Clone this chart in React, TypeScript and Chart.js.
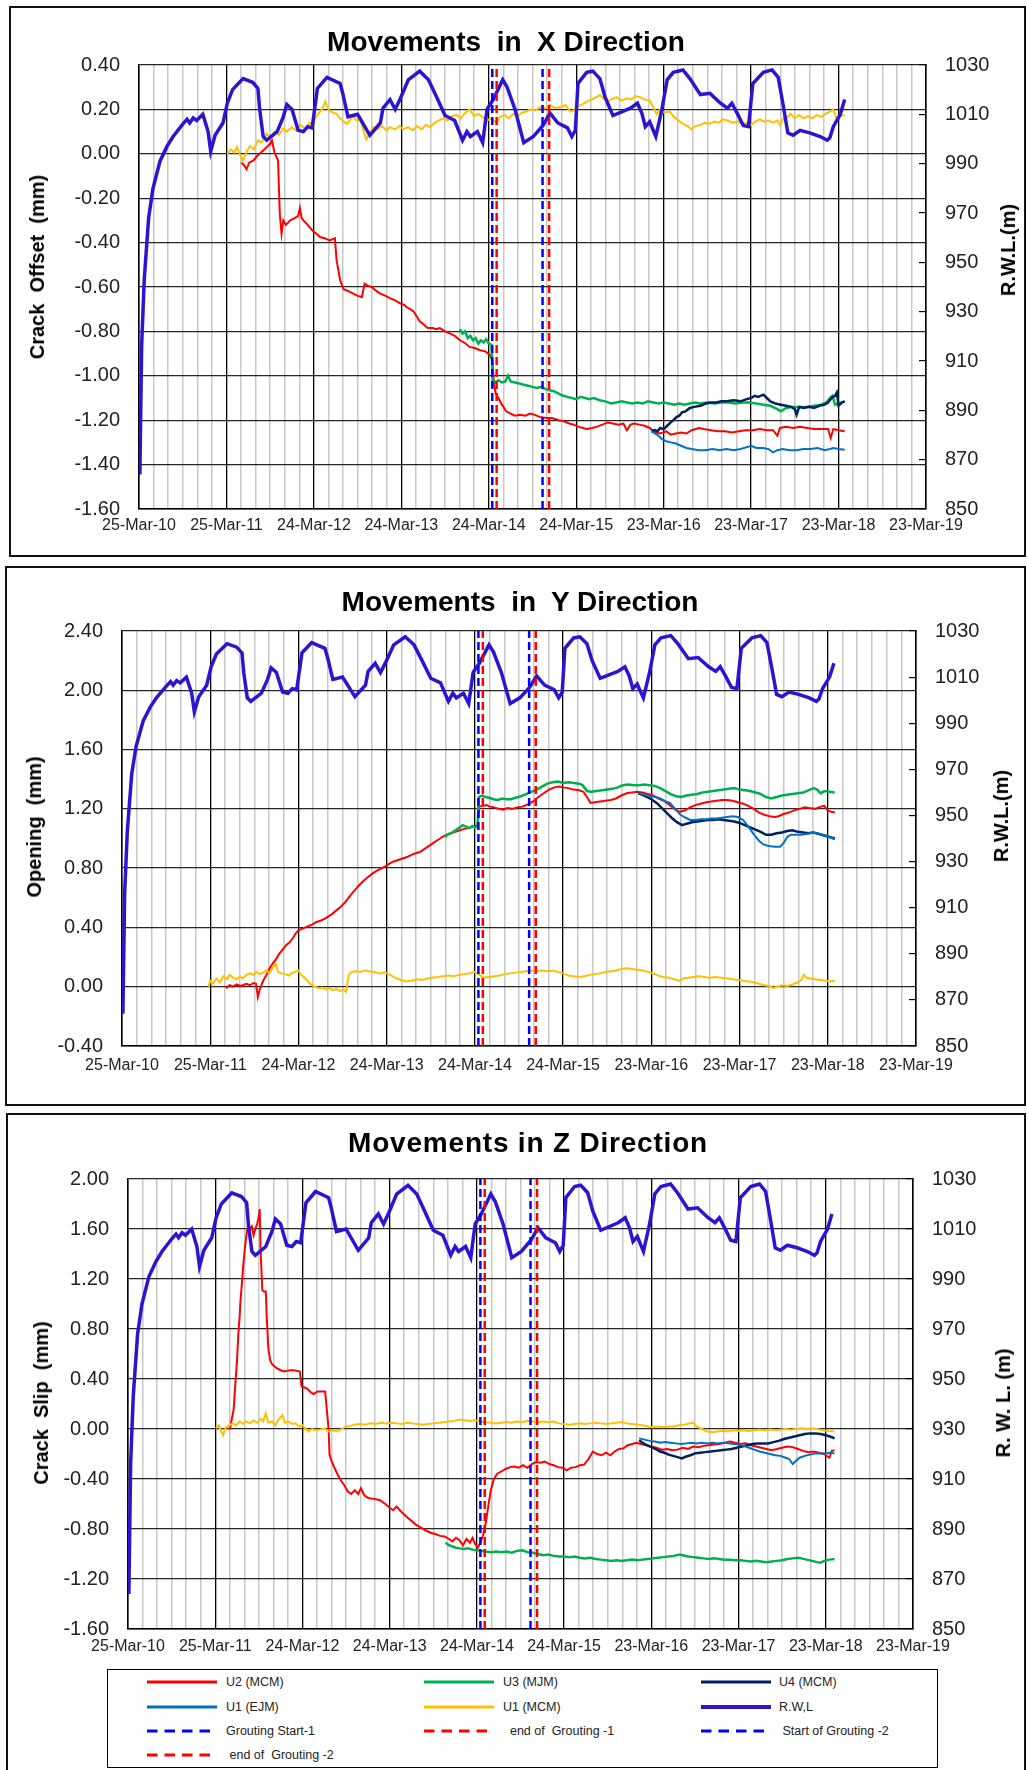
import React, { useEffect, useRef } from "react";
import { Chart, registerables } from "chart.js";
Chart.register(...registerables);

// ---------- DATA (t = years after 25-Mar-10) ----------
const TICK_LABELS = ["25-Mar-10", "25-Mar-11", "24-Mar-12", "24-Mar-13", "24-Mar-14", "24-Mar-15", "23-Mar-16", "23-Mar-17", "23-Mar-18", "23-Mar-19"];
const GROUT_T = [4.04, 4.09, 4.615, 4.69];

const RWL: [number, number][] = [[0.01,864],[0.03,916],[0.06,943],[0.11,968],[0.16,980],[0.24,991],[0.32,997],[0.39,1001],[0.5,1006],[0.55,1008],[0.58,1006.5],[0.62,1008.5],[0.66,1007.5],[0.73,1010],[0.79,1003],[0.82,995],[0.87,1001.5],[0.96,1006.5],[1.01,1014.5],[1.07,1020],[1.19,1024.5],[1.3,1023],[1.36,1020.5],[1.38,1012],[1.42,1001],[1.46,999.5],[1.58,1003],[1.65,1009],[1.69,1014],[1.75,1012],[1.82,1003.5],[1.88,1003],[1.93,1005],[1.98,1004.5],[2.04,1020.5],[2.15,1025],[2.3,1022.5],[2.33,1018.5],[2.39,1009],[2.5,1010],[2.64,1001.5],[2.76,1006.5],[2.79,1012.5],[2.87,1016],[2.93,1012],[2.99,1016.5],[3.08,1024],[3.21,1027.5],[3.31,1024],[3.39,1018],[3.5,1009.5],[3.61,1007.5],[3.7,999.5],[3.75,1003],[3.79,1001],[3.87,1003],[3.93,998.5],[3.98,1012],[4.05,1016],[4.16,1024],[4.21,1021],[4.3,1012],[4.4,998.5],[4.51,1001],[4.62,1005.5],[4.7,1010.5],[4.79,1006.5],[4.9,1004.5],[4.95,1001],[4.99,1003.5],[5.02,1022.5],[5.12,1027],[5.19,1027.5],[5.27,1024.5],[5.33,1017],[5.42,1009.5],[5.52,1011],[5.62,1012.5],[5.7,1014.5],[5.75,1010.5],[5.79,1005],[5.84,1007],[5.91,1001],[5.98,1012],[6.04,1024],[6.11,1027],[6.22,1028],[6.3,1024.5],[6.42,1018],[6.53,1018.5],[6.65,1014.5],[6.73,1012.5],[6.78,1014.5],[6.84,1010.5],[6.91,1005.5],[6.97,1005],[7.02,1022.5],[7.14,1027],[7.24,1028],[7.31,1025],[7.37,1013],[7.42,1002.5],[7.48,1001.5],[7.56,1003.5],[7.67,1002.5],[7.79,1001],[7.87,999.5],[7.9,1000.5],[7.94,1005],[8.02,1010],[8.07,1016]];

// X direction (Crack Offset)
const X_U1MCM: [number, number][] = [[1.01,0],[1.05,0.02],[1.09,0.005],[1.12,0.03],[1.16,-0.01],[1.19,-0.03],[1.23,0.01],[1.27,0.035],[1.31,0.02],[1.36,0.06],[1.4,0.05],[1.46,0.09],[1.5,0.07],[1.55,0.1],[1.6,0.085],[1.65,0.115],[1.69,0.1],[1.75,0.12],[1.8,0.105],[1.84,0.13],[1.9,0.115],[1.95,0.14],[1.98,0.13],[2.02,0.165],[2.05,0.18],[2.09,0.2],[2.13,0.235],[2.16,0.205],[2.18,0.195],[2.22,0.185],[2.26,0.18],[2.3,0.16],[2.34,0.145],[2.38,0.135],[2.42,0.155],[2.45,0.17],[2.49,0.15],[2.53,0.155],[2.57,0.1],[2.6,0.065],[2.64,0.095],[2.68,0.12],[2.72,0.11],[2.78,0.125],[2.83,0.105],[2.87,0.12],[2.93,0.11],[2.98,0.125],[3.02,0.11],[3.08,0.12],[3.13,0.105],[3.18,0.125],[3.23,0.11],[3.28,0.13],[3.33,0.12],[3.38,0.14],[3.43,0.15],[3.48,0.16],[3.53,0.15],[3.58,0.17],[3.63,0.175],[3.68,0.16],[3.73,0.185],[3.78,0.2],[3.83,0.17],[3.88,0.18],[3.93,0.165],[3.98,0.15],[4.03,0.16],[4.08,0.14],[4.13,0.165],[4.18,0.175],[4.23,0.16],[4.28,0.18],[4.33,0.17],[4.38,0.185],[4.43,0.19],[4.48,0.2],[4.53,0.195],[4.59,0.21],[4.64,0.205],[4.7,0.22],[4.76,0.205],[4.82,0.21],[4.88,0.22],[4.93,0.19],[4.97,0.195],[5.02,0.215],[5.08,0.225],[5.12,0.235],[5.18,0.245],[5.23,0.255],[5.27,0.265],[5.31,0.25],[5.36,0.235],[5.4,0.245],[5.46,0.255],[5.52,0.24],[5.58,0.25],[5.63,0.245],[5.68,0.26],[5.73,0.255],[5.78,0.245],[5.84,0.24],[5.88,0.21],[5.92,0.18],[5.96,0.2],[6.01,0.185],[6.07,0.19],[6.12,0.165],[6.17,0.15],[6.22,0.135],[6.27,0.125],[6.32,0.11],[6.36,0.125],[6.42,0.13],[6.47,0.14],[6.52,0.135],[6.58,0.145],[6.63,0.14],[6.68,0.155],[6.73,0.15],[6.79,0.14],[6.85,0.145],[6.9,0.135],[6.95,0.14],[7,0.13],[7.05,0.145],[7.1,0.155],[7.15,0.145],[7.2,0.15],[7.25,0.14],[7.3,0.15],[7.33,0.13],[7.37,0.16],[7.42,0.165],[7.45,0.18],[7.5,0.16],[7.55,0.175],[7.6,0.16],[7.65,0.17],[7.7,0.16],[7.75,0.175],[7.8,0.165],[7.85,0.18],[7.9,0.19],[7.94,0.2],[7.98,0.155],[8.02,0.17],[8.07,0.175]];
const X_U2: [number, number][] = [[1.17,-0.04],[1.2,-0.05],[1.23,-0.07],[1.26,-0.04],[1.31,-0.03],[1.35,-0.01],[1.38,0],[1.42,0.015],[1.46,0.03],[1.5,0.045],[1.52,0.06],[1.55,0.005],[1.59,-0.03],[1.61,-0.27],[1.63,-0.36],[1.65,-0.3],[1.68,-0.32],[1.73,-0.3],[1.78,-0.29],[1.82,-0.28],[1.84,-0.245],[1.86,-0.29],[1.88,-0.3],[1.93,-0.32],[1.98,-0.345],[2.03,-0.36],[2.07,-0.375],[2.12,-0.38],[2.18,-0.39],[2.24,-0.38],[2.26,-0.48],[2.3,-0.57],[2.34,-0.61],[2.4,-0.62],[2.45,-0.63],[2.5,-0.64],[2.55,-0.645],[2.58,-0.585],[2.62,-0.595],[2.66,-0.6],[2.72,-0.62],[2.76,-0.63],[2.82,-0.64],[2.87,-0.65],[2.93,-0.66],[2.99,-0.675],[3.03,-0.68],[3.06,-0.69],[3.1,-0.7],[3.14,-0.71],[3.18,-0.735],[3.21,-0.755],[3.26,-0.77],[3.3,-0.785],[3.36,-0.785],[3.4,-0.79],[3.44,-0.785],[3.5,-0.8],[3.56,-0.81],[3.61,-0.82],[3.67,-0.84],[3.72,-0.85],[3.78,-0.87],[3.84,-0.875],[3.9,-0.885],[3.96,-0.89],[4.01,-0.905],[4.04,-0.93],[4.06,-1.04],[4.08,-1.08],[4.11,-1.1],[4.15,-1.13],[4.2,-1.16],[4.25,-1.17],[4.3,-1.18],[4.36,-1.175],[4.42,-1.18],[4.47,-1.17],[4.52,-1.175],[4.58,-1.185],[4.66,-1.19],[4.72,-1.19],[4.8,-1.2],[4.86,-1.205],[4.92,-1.215],[4.97,-1.22],[5.03,-1.23],[5.08,-1.235],[5.12,-1.24],[5.18,-1.235],[5.23,-1.23],[5.3,-1.22],[5.36,-1.21],[5.42,-1.215],[5.48,-1.22],[5.54,-1.215],[5.58,-1.245],[5.62,-1.22],[5.66,-1.215],[5.72,-1.22],[5.78,-1.225],[5.84,-1.235],[5.9,-1.255],[5.96,-1.26],[6.03,-1.25],[6.08,-1.265],[6.14,-1.26],[6.2,-1.255],[6.26,-1.26],[6.32,-1.245],[6.4,-1.235],[6.46,-1.24],[6.54,-1.245],[6.62,-1.25],[6.7,-1.25],[6.78,-1.255],[6.86,-1.25],[6.94,-1.245],[7.02,-1.245],[7.1,-1.24],[7.18,-1.245],[7.25,-1.245],[7.3,-1.27],[7.33,-1.235],[7.4,-1.23],[7.48,-1.235],[7.56,-1.23],[7.64,-1.235],[7.72,-1.24],[7.8,-1.24],[7.88,-1.24],[7.91,-1.28],[7.94,-1.24],[8,-1.245],[8.07,-1.25]];
const X_U3: [number, number][] = [[3.67,-0.79],[3.7,-0.81],[3.73,-0.8],[3.76,-0.83],[3.79,-0.82],[3.82,-0.84],[3.85,-0.83],[3.88,-0.855],[3.91,-0.84],[3.94,-0.85],[3.97,-0.835],[4,-0.855],[4.03,-0.86],[4.045,-1.02],[4.08,-1.03],[4.11,-1.02],[4.15,-1.03],[4.19,-1.025],[4.22,-1],[4.25,-1.025],[4.3,-1.03],[4.35,-1.035],[4.4,-1.04],[4.45,-1.045],[4.5,-1.05],[4.55,-1.055],[4.6,-1.05],[4.65,-1.06],[4.7,-1.065],[4.75,-1.07],[4.8,-1.08],[4.85,-1.09],[4.9,-1.095],[4.95,-1.1],[5,-1.105],[5.05,-1.095],[5.1,-1.1],[5.15,-1.105],[5.2,-1.1],[5.27,-1.11],[5.33,-1.115],[5.4,-1.125],[5.46,-1.12],[5.52,-1.115],[5.58,-1.12],[5.64,-1.125],[5.7,-1.12],[5.76,-1.125],[5.82,-1.115],[5.88,-1.12],[5.94,-1.125],[6,-1.12],[6.06,-1.125],[6.12,-1.13],[6.18,-1.125],[6.24,-1.13],[6.3,-1.125],[6.36,-1.12],[6.42,-1.125],[6.5,-1.12],[6.58,-1.125],[6.66,-1.12],[6.74,-1.12],[6.82,-1.125],[6.9,-1.12],[6.98,-1.12],[7.06,-1.125],[7.14,-1.13],[7.22,-1.135],[7.3,-1.15],[7.34,-1.16],[7.4,-1.145],[7.48,-1.14],[7.56,-1.14],[7.64,-1.14],[7.72,-1.135],[7.8,-1.13],[7.86,-1.12],[7.9,-1.1],[7.93,-1.09],[7.96,-1.13],[8,-1.125],[8.07,-1.115]];
const X_U4: [number, number][] = [[5.86,-1.25],[5.9,-1.245],[5.93,-1.25],[5.96,-1.235],[6,-1.24],[6.04,-1.225],[6.08,-1.21],[6.11,-1.2],[6.15,-1.185],[6.18,-1.18],[6.21,-1.165],[6.25,-1.16],[6.3,-1.145],[6.35,-1.14],[6.42,-1.135],[6.48,-1.125],[6.54,-1.12],[6.6,-1.12],[6.66,-1.115],[6.72,-1.115],[6.8,-1.11],[6.88,-1.115],[6.95,-1.105],[7,-1.1],[7.04,-1.09],[7.08,-1.095],[7.14,-1.085],[7.18,-1.1],[7.22,-1.115],[7.28,-1.125],[7.34,-1.13],[7.4,-1.135],[7.46,-1.14],[7.5,-1.15],[7.52,-1.175],[7.55,-1.14],[7.6,-1.145],[7.66,-1.14],[7.72,-1.145],[7.78,-1.135],[7.84,-1.13],[7.88,-1.12],[7.92,-1.1],[7.96,-1.09],[7.98,-1.075],[8,-1.135],[8.04,-1.12],[8.07,-1.115]];
const X_U1EJM: [number, number][] = [[5.86,-1.25],[5.9,-1.26],[5.94,-1.27],[5.98,-1.285],[6.03,-1.295],[6.08,-1.3],[6.14,-1.305],[6.2,-1.315],[6.26,-1.325],[6.32,-1.33],[6.4,-1.335],[6.48,-1.335],[6.56,-1.33],[6.64,-1.335],[6.72,-1.33],[6.8,-1.335],[6.88,-1.33],[6.96,-1.32],[7,-1.315],[7.06,-1.325],[7.14,-1.325],[7.2,-1.33],[7.25,-1.345],[7.3,-1.335],[7.36,-1.33],[7.44,-1.335],[7.52,-1.335],[7.6,-1.33],[7.68,-1.33],[7.76,-1.325],[7.84,-1.335],[7.9,-1.33],[7.94,-1.325],[8,-1.33],[8.07,-1.333]];

// Y direction (Opening)
const Y_U1MCM: [number, number][] = [[0.98,0],[1,0.04],[1.03,0.02],[1.07,0.055],[1.11,0.03],[1.15,0.07],[1.19,0.05],[1.22,0.08],[1.26,0.06],[1.3,0.05],[1.34,0.07],[1.37,0.055],[1.41,0.08],[1.45,0.09],[1.49,0.08],[1.52,0.1],[1.56,0.085],[1.6,0.095],[1.64,0.11],[1.67,0.09],[1.7,0.12],[1.74,0.155],[1.77,0.1],[1.81,0.09],[1.85,0.085],[1.89,0.075],[1.92,0.09],[1.96,0.1],[2,0.11],[2.03,0.08],[2.07,0.06],[2.11,0.035],[2.15,0.01],[2.19,0],[2.23,-0.01],[2.27,-0.005],[2.31,-0.02],[2.35,-0.01],[2.39,-0.025],[2.43,-0.015],[2.47,-0.03],[2.51,-0.02],[2.54,-0.035],[2.57,0.08],[2.6,0.1],[2.65,0.105],[2.7,0.1],[2.75,0.11],[2.8,0.105],[2.86,0.1],[2.92,0.09],[2.98,0.095],[3.04,0.08],[3.1,0.06],[3.16,0.045],[3.22,0.035],[3.28,0.04],[3.34,0.05],[3.4,0.045],[3.46,0.055],[3.52,0.06],[3.58,0.065],[3.64,0.07],[3.7,0.075],[3.76,0.07],[3.82,0.08],[3.88,0.085],[3.94,0.09],[4,0.1],[4.04,0.085],[4.1,0.06],[4.16,0.065],[4.22,0.07],[4.28,0.075],[4.34,0.085],[4.4,0.09],[4.46,0.095],[4.52,0.1],[4.58,0.105],[4.64,0.11],[4.7,0.105],[4.76,0.11],[4.82,0.105],[4.88,0.11],[4.94,0.1],[5,0.09],[5.06,0.075],[5.12,0.07],[5.18,0.065],[5.24,0.07],[5.3,0.08],[5.36,0.085],[5.42,0.09],[5.48,0.1],[5.54,0.105],[5.6,0.11],[5.66,0.12],[5.72,0.125],[5.78,0.12],[5.84,0.115],[5.9,0.11],[5.96,0.1],[6.02,0.09],[6.08,0.075],[6.14,0.065],[6.2,0.06],[6.26,0.05],[6.32,0.04],[6.36,0.055],[6.42,0.06],[6.48,0.065],[6.54,0.07],[6.6,0.065],[6.66,0.06],[6.72,0.065],[6.8,0.06],[6.86,0.055],[6.92,0.05],[6.98,0.045],[7.04,0.04],[7.1,0.035],[7.16,0.03],[7.22,0.02],[7.28,0.01],[7.34,0.005],[7.38,-0.01],[7.42,0],[7.48,0.01],[7.54,0.005],[7.6,0.015],[7.66,0.03],[7.7,0.045],[7.73,0.08],[7.76,0.06],[7.8,0.055],[7.86,0.05],[7.92,0.045],[7.98,0.04],[8.04,0.035],[8.08,0.04]];
const Y_U2: [number, number][] = [[1.18,-0.01],[1.22,0.01],[1.26,0],[1.3,0.015],[1.34,0.005],[1.37,0.01],[1.41,0.02],[1.45,0.01],[1.49,0.025],[1.52,0.02],[1.54,-0.07],[1.56,-0.02],[1.6,0.04],[1.63,0.07],[1.67,0.12],[1.71,0.16],[1.74,0.18],[1.78,0.22],[1.82,0.25],[1.86,0.28],[1.9,0.3],[1.94,0.33],[1.97,0.36],[2,0.38],[2.04,0.39],[2.08,0.4],[2.12,0.41],[2.16,0.42],[2.2,0.435],[2.25,0.445],[2.3,0.46],[2.34,0.475],[2.38,0.49],[2.43,0.515],[2.48,0.54],[2.53,0.57],[2.58,0.61],[2.63,0.645],[2.68,0.68],[2.73,0.71],[2.78,0.735],[2.83,0.76],[2.88,0.78],[2.93,0.795],[2.98,0.81],[3.03,0.83],[3.08,0.845],[3.13,0.855],[3.18,0.865],[3.23,0.875],[3.28,0.89],[3.33,0.9],[3.38,0.91],[3.43,0.93],[3.48,0.95],[3.53,0.97],[3.58,0.99],[3.63,1.01],[3.68,1.025],[3.73,1.035],[3.78,1.045],[3.83,1.055],[3.88,1.065],[3.93,1.07],[3.98,1.08],[4.03,1.09],[4.05,1.215],[4.09,1.22],[4.13,1.225],[4.17,1.215],[4.22,1.21],[4.27,1.2],[4.32,1.195],[4.37,1.205],[4.42,1.2],[4.48,1.21],[4.54,1.215],[4.6,1.23],[4.66,1.25],[4.72,1.28],[4.78,1.305],[4.84,1.33],[4.9,1.345],[4.95,1.35],[5,1.345],[5.06,1.34],[5.12,1.33],[5.18,1.325],[5.23,1.315],[5.27,1.28],[5.31,1.24],[5.36,1.245],[5.42,1.25],[5.48,1.255],[5.54,1.26],[5.6,1.27],[5.66,1.29],[5.72,1.305],[5.78,1.31],[5.84,1.315],[5.9,1.31],[5.96,1.3],[6.02,1.29],[6.08,1.27],[6.14,1.255],[6.2,1.23],[6.26,1.2],[6.32,1.18],[6.38,1.19],[6.44,1.21],[6.5,1.225],[6.56,1.235],[6.62,1.245],[6.68,1.25],[6.74,1.255],[6.8,1.26],[6.86,1.26],[6.92,1.255],[6.98,1.245],[7.04,1.235],[7.1,1.22],[7.16,1.2],[7.22,1.175],[7.28,1.16],[7.34,1.15],[7.4,1.145],[7.44,1.15],[7.5,1.165],[7.56,1.175],[7.62,1.19],[7.68,1.2],[7.74,1.21],[7.8,1.205],[7.86,1.2],[7.92,1.215],[7.96,1.22],[8,1.19],[8.04,1.18],[8.08,1.175]];
const Y_U3: [number, number][] = [[3.66,1.01],[3.7,1.03],[3.74,1.04],[3.78,1.055],[3.82,1.07],[3.86,1.09],[3.9,1.08],[3.94,1.07],[3.97,1.085],[4,1.075],[4.03,1.08],[4.045,1.28],[4.08,1.29],[4.12,1.28],[4.16,1.275],[4.21,1.265],[4.26,1.26],[4.31,1.27],[4.36,1.265],[4.41,1.265],[4.46,1.275],[4.52,1.285],[4.58,1.3],[4.64,1.315],[4.7,1.33],[4.76,1.35],[4.82,1.37],[4.88,1.38],[4.94,1.385],[5,1.375],[5.06,1.38],[5.12,1.375],[5.18,1.37],[5.22,1.36],[5.27,1.32],[5.32,1.315],[5.38,1.32],[5.44,1.325],[5.5,1.33],[5.56,1.335],[5.62,1.345],[5.68,1.36],[5.74,1.365],[5.8,1.36],[5.86,1.36],[5.92,1.365],[5.98,1.36],[6.04,1.355],[6.1,1.34],[6.16,1.32],[6.22,1.3],[6.28,1.285],[6.34,1.28],[6.4,1.29],[6.46,1.295],[6.52,1.3],[6.58,1.31],[6.64,1.315],[6.7,1.32],[6.76,1.325],[6.82,1.33],[6.88,1.335],[6.94,1.34],[7,1.33],[7.06,1.325],[7.12,1.32],[7.18,1.31],[7.24,1.3],[7.3,1.28],[7.36,1.27],[7.42,1.28],[7.48,1.29],[7.54,1.295],[7.6,1.3],[7.66,1.305],[7.72,1.31],[7.78,1.325],[7.84,1.34],[7.88,1.33],[7.92,1.305],[7.96,1.32],[8.02,1.315],[8.08,1.31]];
const Y_U4: [number, number][] = [[5.85,1.305],[5.9,1.295],[5.95,1.28],[6,1.265],[6.06,1.24],[6.12,1.205],[6.18,1.17],[6.23,1.14],[6.29,1.11],[6.35,1.09],[6.4,1.1],[6.46,1.11],[6.52,1.115],[6.58,1.12],[6.64,1.125],[6.7,1.125],[6.76,1.13],[6.82,1.125],[6.88,1.12],[6.94,1.115],[7,1.105],[7.06,1.09],[7.12,1.075],[7.18,1.06],[7.24,1.045],[7.3,1.025],[7.36,1.025],[7.42,1.035],[7.48,1.04],[7.54,1.05],[7.6,1.055],[7.66,1.045],[7.72,1.04],[7.78,1.035],[7.84,1.04],[7.9,1.03],[7.96,1.02],[8.02,1.01],[8.08,1]];
const Y_U1EJM: [number, number][] = [[5.85,1.305],[5.9,1.3],[5.95,1.29],[6,1.285],[6.05,1.28],[6.1,1.27],[6.16,1.25],[6.21,1.24],[6.27,1.2],[6.33,1.16],[6.39,1.14],[6.44,1.125],[6.5,1.125],[6.56,1.13],[6.62,1.13],[6.68,1.135],[6.74,1.135],[6.8,1.14],[6.86,1.145],[6.92,1.15],[6.98,1.145],[7.04,1.125],[7.1,1.08],[7.16,1.03],[7.22,0.985],[7.27,0.96],[7.33,0.95],[7.4,0.945],[7.46,0.945],[7.5,0.97],[7.54,1.01],[7.58,1.025],[7.64,1.025],[7.7,1.025],[7.76,1.03],[7.82,1.04],[7.88,1.035],[7.94,1.025],[8,1.015],[8.08,0.995]];

// Z direction (Crack Slip)
const Z_U1MCM: [number, number][] = [[1.01,0.005],[1.04,0.03],[1.07,-0.02],[1.09,-0.05],[1.12,0.01],[1.16,0.03],[1.2,0.045],[1.24,0.03],[1.28,0.06],[1.32,0.04],[1.35,0.06],[1.4,0.045],[1.44,0.07],[1.48,0.05],[1.52,0.08],[1.55,0.06],[1.58,0.125],[1.61,0.05],[1.65,0.06],[1.69,0.03],[1.72,0.07],[1.77,0.11],[1.8,0.05],[1.84,0.06],[1.88,0.04],[1.92,0.045],[1.96,0.02],[2,0.03],[2.04,0],[2.07,-0.02],[2.11,0],[2.15,-0.01],[2.2,-0.005],[2.25,0.005],[2.3,-0.02],[2.35,-0.01],[2.4,-0.02],[2.45,0],[2.5,0.02],[2.55,0.025],[2.6,0.035],[2.66,0.04],[2.72,0.035],[2.78,0.045],[2.84,0.04],[2.9,0.05],[2.96,0.045],[3.02,0.05],[3.08,0.045],[3.14,0.04],[3.2,0.05],[3.26,0.045],[3.32,0.04],[3.38,0.035],[3.44,0.04],[3.5,0.045],[3.56,0.05],[3.62,0.055],[3.68,0.06],[3.74,0.065],[3.8,0.075],[3.86,0.07],[3.92,0.065],[3.98,0.07],[4.04,0.06],[4.1,0.055],[4.16,0.05],[4.22,0.045],[4.28,0.05],[4.34,0.055],[4.4,0.05],[4.46,0.06],[4.52,0.055],[4.58,0.065],[4.64,0.06],[4.7,0.055],[4.76,0.06],[4.82,0.055],[4.88,0.06],[4.94,0.045],[5,0.04],[5.06,0.035],[5.12,0.04],[5.18,0.045],[5.24,0.04],[5.3,0.045],[5.36,0.05],[5.42,0.045],[5.48,0.04],[5.54,0.045],[5.6,0.05],[5.66,0.055],[5.72,0.045],[5.78,0.04],[5.84,0.035],[5.9,0.03],[5.96,0.02],[6.02,0.015],[6.08,0.02],[6.14,0.015],[6.2,0.02],[6.26,0.02],[6.32,0.03],[6.38,0.035],[6.44,0.045],[6.48,0.05],[6.52,0.02],[6.58,0],[6.64,-0.02],[6.7,-0.025],[6.76,-0.02],[6.82,-0.015],[6.88,-0.02],[6.94,-0.01],[7,-0.015],[7.06,-0.01],[7.12,-0.015],[7.18,-0.01],[7.24,-0.005],[7.3,-0.01],[7.36,-0.005],[7.42,-0.01],[7.48,-0.005],[7.54,0],[7.6,-0.005],[7.66,0],[7.72,0.005],[7.78,0],[7.84,0.005],[7.9,0],[7.96,-0.01],[8.02,-0.015],[8.1,-0.02]];
const Z_U2: [number, number][] = [[1.15,0],[1.17,0.005],[1.19,0.08],[1.21,0.15],[1.23,0.35],[1.25,0.55],[1.265,0.76],[1.28,0.9],[1.29,1.03],[1.31,1.2],[1.32,1.3],[1.34,1.45],[1.36,1.56],[1.38,1.64],[1.4,1.6],[1.42,1.62],[1.44,1.55],[1.46,1.6],[1.48,1.64],[1.5,1.7],[1.51,1.76],[1.52,1.43],[1.54,1.11],[1.56,1.1],[1.58,1.1],[1.59,0.9],[1.61,0.64],[1.63,0.55],[1.65,0.52],[1.68,0.5],[1.71,0.485],[1.75,0.47],[1.79,0.46],[1.82,0.465],[1.86,0.47],[1.9,0.47],[1.94,0.465],[1.97,0.46],[1.99,0.34],[2.03,0.33],[2.06,0.32],[2.1,0.29],[2.13,0.28],[2.17,0.3],[2.22,0.3],[2.26,0.3],[2.28,0.15],[2.3,0],[2.31,-0.2],[2.33,-0.25],[2.36,-0.3],[2.4,-0.36],[2.44,-0.41],[2.48,-0.45],[2.52,-0.5],[2.56,-0.52],[2.6,-0.49],[2.64,-0.52],[2.67,-0.475],[2.71,-0.53],[2.75,-0.55],[2.78,-0.555],[2.83,-0.56],[2.89,-0.57],[2.95,-0.6],[3,-0.63],[3.04,-0.65],[3.08,-0.62],[3.13,-0.66],[3.19,-0.7],[3.25,-0.735],[3.3,-0.765],[3.35,-0.785],[3.41,-0.81],[3.47,-0.83],[3.52,-0.84],[3.58,-0.855],[3.63,-0.86],[3.68,-0.88],[3.72,-0.9],[3.76,-0.87],[3.8,-0.89],[3.84,-0.93],[3.88,-0.88],[3.92,-0.91],[3.95,-0.87],[3.98,-0.92],[4.01,-0.95],[4.04,-0.91],[4.07,-0.85],[4.1,-0.76],[4.13,-0.62],[4.16,-0.49],[4.19,-0.41],[4.23,-0.36],[4.28,-0.34],[4.33,-0.32],[4.38,-0.305],[4.43,-0.3],[4.48,-0.31],[4.53,-0.29],[4.58,-0.31],[4.63,-0.28],[4.68,-0.265],[4.73,-0.27],[4.78,-0.26],[4.83,-0.28],[4.88,-0.29],[4.93,-0.305],[4.98,-0.31],[5.03,-0.33],[5.08,-0.31],[5.13,-0.305],[5.18,-0.29],[5.23,-0.285],[5.28,-0.24],[5.33,-0.18],[5.38,-0.2],[5.43,-0.21],[5.48,-0.19],[5.53,-0.21],[5.58,-0.18],[5.63,-0.16],[5.68,-0.155],[5.73,-0.13],[5.78,-0.12],[5.83,-0.11],[5.88,-0.12],[5.94,-0.13],[6,-0.14],[6.06,-0.15],[6.12,-0.165],[6.18,-0.16],[6.24,-0.17],[6.3,-0.165],[6.36,-0.15],[6.42,-0.16],[6.48,-0.14],[6.54,-0.145],[6.6,-0.135],[6.66,-0.13],[6.72,-0.125],[6.78,-0.12],[6.84,-0.11],[6.9,-0.1],[6.96,-0.11],[7.02,-0.12],[7.08,-0.115],[7.14,-0.13],[7.2,-0.14],[7.26,-0.15],[7.32,-0.16],[7.38,-0.17],[7.44,-0.16],[7.5,-0.15],[7.56,-0.14],[7.62,-0.145],[7.68,-0.16],[7.74,-0.175],[7.8,-0.185],[7.86,-0.18],[7.92,-0.19],[7.98,-0.2],[8.04,-0.23],[8.07,-0.175],[8.1,-0.17]];
const Z_U3: [number, number][] = [[3.64,-0.91],[3.68,-0.93],[3.72,-0.94],[3.76,-0.95],[3.8,-0.955],[3.85,-0.96],[3.9,-0.955],[3.95,-0.965],[4,-0.97],[4.05,-0.975],[4.1,-0.98],[4.16,-0.985],[4.22,-0.98],[4.28,-0.985],[4.34,-0.98],[4.4,-0.99],[4.46,-0.975],[4.52,-0.97],[4.58,-0.985],[4.64,-0.99],[4.7,-1],[4.76,-1.01],[4.82,-1.005],[4.88,-1.015],[4.94,-1.02],[5,-1.02],[5.06,-1.025],[5.12,-1.02],[5.18,-1.03],[5.24,-1.035],[5.3,-1.03],[5.36,-1.04],[5.42,-1.045],[5.48,-1.05],[5.54,-1.055],[5.6,-1.05],[5.66,-1.055],[5.72,-1.05],[5.78,-1.045],[5.84,-1.05],[5.9,-1.045],[5.96,-1.04],[6.02,-1.035],[6.08,-1.03],[6.14,-1.025],[6.2,-1.02],[6.26,-1.015],[6.32,-1.005],[6.36,-1.01],[6.42,-1.02],[6.48,-1.025],[6.54,-1.03],[6.6,-1.035],[6.66,-1.04],[6.72,-1.035],[6.78,-1.04],[6.84,-1.045],[6.9,-1.045],[6.96,-1.05],[7.02,-1.05],[7.08,-1.055],[7.14,-1.06],[7.2,-1.055],[7.26,-1.06],[7.32,-1.065],[7.38,-1.06],[7.44,-1.055],[7.5,-1.05],[7.56,-1.04],[7.62,-1.035],[7.68,-1.03],[7.72,-1.035],[7.78,-1.045],[7.84,-1.055],[7.9,-1.065],[7.94,-1.07],[7.98,-1.055],[8.04,-1.045],[8.1,-1.04]];
const Z_U4: [number, number][] = [[5.86,-0.09],[5.9,-0.11],[5.95,-0.13],[6,-0.145],[6.05,-0.16],[6.1,-0.18],[6.15,-0.19],[6.2,-0.205],[6.25,-0.215],[6.3,-0.225],[6.35,-0.235],[6.4,-0.22],[6.45,-0.21],[6.5,-0.195],[6.56,-0.19],[6.62,-0.185],[6.68,-0.18],[6.74,-0.175],[6.8,-0.17],[6.86,-0.165],[6.92,-0.16],[6.98,-0.15],[7.04,-0.14],[7.1,-0.13],[7.16,-0.12],[7.22,-0.115],[7.28,-0.115],[7.34,-0.115],[7.4,-0.105],[7.46,-0.095],[7.52,-0.08],[7.58,-0.07],[7.64,-0.06],[7.7,-0.05],[7.76,-0.04],[7.82,-0.035],[7.88,-0.035],[7.94,-0.04],[8,-0.05],[8.05,-0.06],[8.1,-0.075]];
const Z_U1EJM: [number, number][] = [[5.86,-0.075],[5.92,-0.085],[5.98,-0.095],[6.04,-0.1],[6.1,-0.11],[6.16,-0.105],[6.22,-0.11],[6.28,-0.115],[6.34,-0.12],[6.4,-0.115],[6.46,-0.11],[6.52,-0.115],[6.58,-0.11],[6.64,-0.115],[6.7,-0.11],[6.76,-0.115],[6.82,-0.11],[6.88,-0.115],[6.94,-0.12],[7,-0.125],[7.06,-0.135],[7.12,-0.15],[7.18,-0.165],[7.24,-0.18],[7.3,-0.19],[7.36,-0.2],[7.42,-0.21],[7.48,-0.215],[7.54,-0.23],[7.58,-0.24],[7.62,-0.28],[7.65,-0.26],[7.7,-0.23],[7.76,-0.215],[7.82,-0.205],[7.88,-0.195],[7.94,-0.195],[8,-0.195],[8.05,-0.19],[8.1,-0.195]];

// ---------- STYLE ----------
const FONT = '"Liberation Sans", Arial, sans-serif';
const C = { U2: "#FF0000", U3: "#00B050", U4: "#002060", U1E: "#0070C0", U1M: "#FFC000", RWL: "#2B14D2", gBlue: "#0000FF", gRed: "#FF0000" };

type Pair = [number, number];
type Spec = {
  cx: number; cy: number; cw: number; ch: number;
  aL: number; aT: number; aR: number; aB: number;
  yMin: number; yMax: number; yStep: number; xPad: number;
  u2: Pair[]; u3: Pair[]; u4: Pair[]; u1e: Pair[]; u1m: Pair[];
};

const fmt2 = (v: any) => {
  const r = Math.round(Number(v) * 100) / 100;
  return (r === 0 ? 0 : r).toFixed(2);
};

function buildConfig(p: Spec): any {
  const padTop = p.aT - p.cy;
  const leftW = p.aL - p.cx;
  const rightW = p.cx + p.cw - p.aR;
  const bottomH = p.cy + p.ch - p.aB;
  const line = (data: Pair[], color: string, width: number, order: number, axis = "y") => ({
    data: data.map(([x, y]) => ({ x, y })),
    borderColor: color, backgroundColor: color, borderWidth: width,
    pointRadius: 0, tension: 0, fill: false, order, yAxisID: axis,
  });
  const grout = GROUT_T.map((t, i) => ({
    data: [{ x: t, y: p.yMin }, { x: t, y: p.yMax }],
    borderColor: i % 2 ? C.gRed : C.gBlue, borderWidth: 2.5, borderDash: [8, 4],
    pointRadius: 0, fill: false, order: 0, yAxisID: "y",
  }));
  return {
    type: "line",
    data: {
      datasets: [
        ...grout,
        line(RWL, C.RWL, 3.5, 1, "y1"),
        line(p.u1m, C.U1M, 2, 2),
        line(p.u1e, C.U1E, 2, 3),
        line(p.u4, C.U4, 2.5, 4),
        line(p.u3, C.U3, 2.5, 5),
        line(p.u2, C.U2, 2, 6),
      ],
    },
    options: {
      responsive: false, maintainAspectRatio: false, animation: false, devicePixelRatio: 1, events: [],
      layout: { padding: { top: padTop, left: 0, right: 0, bottom: 0 } },
      plugins: { legend: { display: false }, tooltip: { enabled: false }, title: { display: false } },
      scales: {
        x: {
          type: "linear", min: 0, max: 9,
          afterBuildTicks: (s: any) => { s.ticks = Array.from({ length: 55 }, (_, i) => ({ value: i / 6 })); },
          afterFit: (s: any) => { s.height = bottomH; },
          ticks: {
            autoSkip: false, maxRotation: 0, minRotation: 0, padding: p.xPad, color: "#222",
            font: { family: FONT, size: 16 },
            callback: (_v: any, i: number) => (i % 6 === 0 ? TICK_LABELS[i / 6] : ""),
          },
          grid: {
            drawTicks: false,
            color: (ctx: any) => (ctx.index % 6 === 0 ? "#000" : "#C8C8C8"),
            lineWidth: (ctx: any) => (ctx.index % 6 === 0 ? 1.3 : 1.5),
          },
          border: { display: true, color: "#000", width: 1.5 },
        },
        y: {
          type: "linear", position: "left", min: p.yMin, max: p.yMax,
          afterFit: (s: any) => { s.width = leftW; },
          ticks: { stepSize: p.yStep, padding: 19, color: "#222", font: { family: FONT, size: 20 }, callback: fmt2 },
          grid: { drawTicks: false, color: "#262626", lineWidth: 1.3 },
          border: { display: true, color: "#000", width: 1.5 },
        },
        y1: {
          type: "linear", position: "right", min: 850, max: 1030,
          afterFit: (s: any) => { s.width = rightW; },
          ticks: { stepSize: 20, padding: 26, color: "#222", font: { family: FONT, size: 20 }, callback: (v: any) => String(Math.round(Number(v))) },
          grid: { drawOnChartArea: false, drawTicks: true, tickLength: -7, color: "#000", lineWidth: 1.2 },
          border: { display: true, color: "#000", width: 1.5 },
        },
      },
    },
  };
}

const PANELS: Spec[] = [
  { cx: 11, cy: 8, cw: 1013, ch: 547, aL: 139, aT: 65, aR: 926, aB: 509, yMin: -1.6, yMax: 0.4, yStep: 0.2, xPad: 7,
    u2: X_U2, u3: X_U3, u4: X_U4, u1e: X_U1EJM, u1m: X_U1MCM },
  { cx: 7, cy: 568, cw: 1017, ch: 536, aL: 122, aT: 631, aR: 916, aB: 1046, yMin: -0.4, yMax: 2.4, yStep: 0.4, xPad: 10,
    u2: Y_U2, u3: Y_U3, u4: Y_U4, u1e: Y_U1EJM, u1m: Y_U1MCM },
  { cx: 8, cy: 1115, cw: 1016, ch: 552, aL: 128, aT: 1179, aR: 913, aB: 1629, yMin: -1.6, yMax: 2.0, yStep: 0.4, xPad: 8,
    u2: Z_U2, u3: Z_U3, u4: Z_U4, u1e: Z_U1EJM, u1m: Z_U1MCM },
];

const TITLES = [
  { text: "Movements  in  X Direction", x: 506, top: 28, ls: 0 },
  { text: "Movements  in  Y Direction", x: 520, top: 588, ls: 0 },
  { text: "Movements in Z Direction", x: 528, top: 1129, ls: 0.8 },
];
const AXIS_TITLES = [
  { text: "Crack  Offset  (mm)", x: 37, y: 267 },
  { text: "R.W.L.(m)", x: 1008, y: 250 },
  { text: "Opening  (mm)", x: 34, y: 827 },
  { text: "R.W.L.(m)", x: 1001, y: 816 },
  { text: "Crack  Slip  (mm)", x: 41, y: 1403 },
  { text: "R. W. L. (m)", x: 1003, y: 1403 },
];
const BOXES = [
  { left: 9, top: 6, width: 1017, height: 551 },
  { left: 5, top: 566, width: 1021, height: 540 },
  { left: 6, top: 1113, width: 1020, height: 680 },
];
const LEGEND = [
  { label: "U2 (MCM)", color: C.U2, dash: false, w: 3 },
  { label: "U3 (MJM)", color: C.U3, dash: false, w: 3 },
  { label: "U4 (MCM)", color: C.U4, dash: false, w: 3 },
  { label: "U1 (EJM)", color: C.U1E, dash: false, w: 3 },
  { label: "U1 (MCM)", color: C.U1M, dash: false, w: 3 },
  { label: "R.W,L", color: C.RWL, dash: false, w: 4 },
  { label: "Grouting Start-1", color: C.gBlue, dash: true, w: 3 },
  { label: "  end of  Grouting -1", color: C.gRed, dash: true, w: 3 },
  { label: " Start of Grouting -2", color: C.gBlue, dash: true, w: 3 },
  { label: " end of  Grouting -2", color: C.gRed, dash: true, w: 3 },
];
const LEG_COL_LINE = [39, 316, 593];
const LEG_COL_TEXT = [118, 395, 671];
const LEG_ROW_Y = [12, 37, 61, 85];

function PanelChart({ spec }: { spec: Spec }) {
  const ref = useRef<HTMLCanvasElement | null>(null);
  useEffect(() => {
    if (!ref.current) return;
    const chart = new Chart(ref.current, buildConfig(spec));
    return () => chart.destroy();
  }, [spec]);
  return (
    <canvas ref={ref} width={spec.cw} height={spec.ch}
      style={{ position: "absolute", left: spec.cx, top: spec.cy, width: spec.cw, height: spec.ch, display: "block" }} />
  );
}

export default function App() {
  return (
    <div style={{ position: "absolute", left: 0, top: 0, width: 1028, height: 1770, overflow: "hidden", background: "#fff", fontFamily: FONT }}>
      {BOXES.map((b, i) => (
        <div key={"b" + i} style={{ position: "absolute", left: b.left, top: b.top, width: b.width, height: b.height, border: "2px solid #111", boxSizing: "border-box" }} />
      ))}
      {PANELS.map((p, i) => <PanelChart key={"p" + i} spec={p} />)}
      {TITLES.map((t, i) => (
        <div key={"t" + i} style={{ position: "absolute", left: t.x, top: t.top, transform: "translateX(-50%)", fontSize: 28, lineHeight: "28px", fontWeight: "bold", whiteSpace: "pre", letterSpacing: t.ls, color: "#000" }}>{t.text}</div>
      ))}
      {AXIS_TITLES.map((t, i) => (
        <div key={"a" + i} style={{ position: "absolute", left: t.x, top: t.y, transform: "translate(-50%,-50%) rotate(-90deg)", fontSize: 20, lineHeight: "20px", fontWeight: "bold", whiteSpace: "pre", color: "#000" }}>{t.text}</div>
      ))}
      <div style={{ position: "absolute", left: 107, top: 1669, width: 831, height: 99, border: "1px solid #000", boxSizing: "border-box", background: "#fff" }}>
        {LEGEND.map((it, i) => {
          const col = i % 3, row = Math.floor(i / 3);
          const y = LEG_ROW_Y[row];
          return (
            <React.Fragment key={"l" + i}>
              <svg width={70} height={10} style={{ position: "absolute", left: LEG_COL_LINE[col], top: y - 5 }}>
                <line x1={0} y1={5} x2={70} y2={5} stroke={it.color} strokeWidth={it.w} strokeDasharray={it.dash ? "10.5 7" : undefined} />
              </svg>
              <div style={{ position: "absolute", left: LEG_COL_TEXT[col], top: y - 8, fontSize: 12.5, lineHeight: "16px", whiteSpace: "pre", color: "#222" }}>{it.label}</div>
            </React.Fragment>
          );
        })}
      </div>
    </div>
  );
}
